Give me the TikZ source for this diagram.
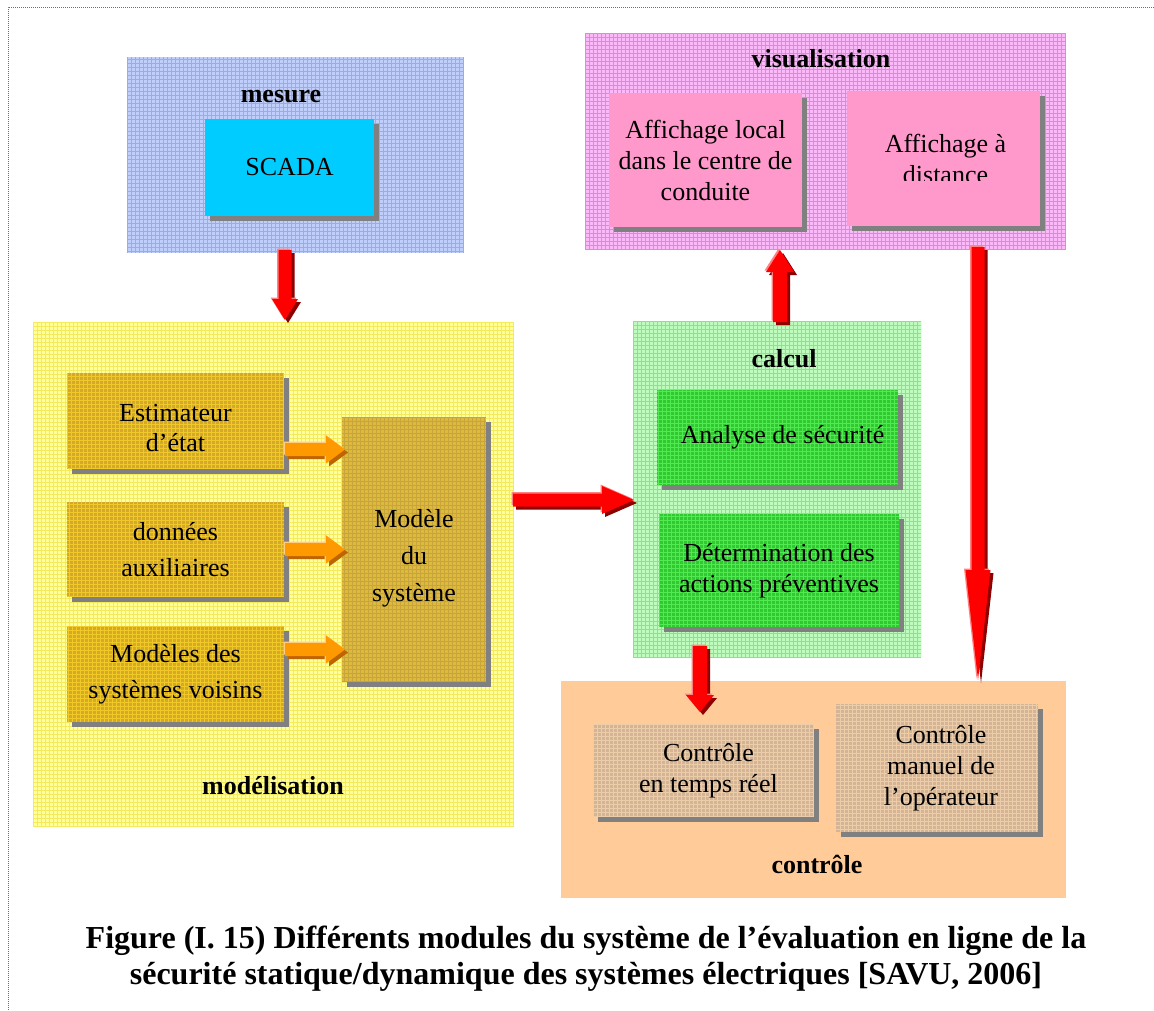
\documentclass[tikz,border=0pt]{standalone}
\usepackage{fontspec}
\setmainfont{Liberation Serif}
\usetikzlibrary{calc,shadows}

\definecolor{mesfill}{RGB}{192,206,252}
\definecolor{mesline}{RGB}{150,170,245}
\definecolor{visfill}{RGB}{252,185,250}
\definecolor{visline}{RGB}{245,120,240}
\definecolor{modfill}{RGB}{255,255,160}
\definecolor{modline}{RGB}{245,235,90}
\definecolor{calfill}{RGB}{190,252,190}
\definecolor{calline}{RGB}{120,240,120}
\definecolor{ctlfill}{RGB}{255,204,153}
\definecolor{scadabox}{RGB}{0,204,255}
\definecolor{pinkbox}{RGB}{255,153,204}
\definecolor{goldbox}{RGB}{212,168,40}
\definecolor{goldline}{RGB}{240,200,40}
\definecolor{sysbox}{RGB}{222,186,60}
\definecolor{sysline}{RGB}{200,165,60}
\definecolor{greenbox}{RGB}{50,200,50}
\definecolor{greenline}{RGB}{80,235,80}
\definecolor{tanbox}{RGB}{212,180,148}
\definecolor{tanline}{RGB}{235,205,170}
\definecolor{boxshadow}{RGB}{128,128,128}
\definecolor{redface}{RGB}{255,0,0}
\definecolor{redshade}{RGB}{140,0,0}
\definecolor{redlight}{RGB}{255,130,130}
\definecolor{orangeface}{RGB}{255,153,0}
\definecolor{orangeshade}{RGB}{190,100,0}
\definecolor{orangelight}{RGB}{255,205,130}
\definecolor{framegray}{RGB}{110,110,110}

% one flat block arrow: fill, tail, tip, shaft half width, head half width, head length
\newcommand\arrowbody[6]{%
  \coordinate (ab-t) at (#2);
  \coordinate (ab-p) at (#3);
  \coordinate (ab-h) at ($(ab-p)!#6!(ab-t)$);
  \fill[#1] ($(ab-t)!#4!90:(ab-p)$) -- ($(ab-h)!#4!-90:(ab-t)$)
    -- ($(ab-h)!#5!-90:(ab-t)$) -- (ab-p) -- ($(ab-h)!#5!90:(ab-t)$)
    -- ($(ab-h)!#4!90:(ab-t)$) -- ($(ab-t)!#4!-90:(ab-p)$) -- cycle;
}
% raised block arrow: face, shade, light, tail, tip, shaft hw, head hw, head length
\newcommand\blockarrow[8]{%
  \coordinate (ba-s1) at ($(#4)+(3,3)$);
  \coordinate (ba-s2) at ($(#5)+(3,3)$);
  \coordinate (ba-l1) at ($(#4)+(-1.5,-1.5)$);
  \coordinate (ba-l2) at ($(#5)+(-1.5,-1.5)$);
  \arrowbody{#2}{ba-s1}{ba-s2}{#6}{#7}{#8}
  \arrowbody{#3}{ba-l1}{ba-l2}{#6}{#7}{#8}
  \arrowbody{#1}{#4}{#5}{#6}{#7}{#8}
}

\tikzset{
  every node/.style={inner sep=0pt, outer sep=0pt, font=\fontsize{26}{31}\selectfont},
  tex/.style={path picture={\draw[#1, line width=0.6pt, step=4pt]
      (path picture bounding box.north west) grid (path picture bounding box.south east);}},
  grp/.style={draw=none, rectangle},
  title/.style={anchor=base, font=\fontsize{26}{31}\selectfont\bfseries},
  card/.style={rectangle, align=center,
      drop shadow={opacity=1, fill=boxshadow, shadow xshift=5pt, shadow yshift=-5pt}},
}

\begin{document}
\begin{tikzpicture}[x=1pt, y=-1pt]
\useasboundingbox (0,0) rectangle (1154,1010);
\fill[white] (0,0) rectangle (1154,1010);

% page frame
\draw[framegray, line width=1pt, dash pattern=on 1pt off 1pt] (8,1010) -- (8,7) -- (1154,7);

% module areas
\node[grp, fill=mesfill, tex=mesline, minimum width=337pt, minimum height=196pt] (mesure) at (295.5,155) {};
\node[grp, fill=visfill, tex=visline, minimum width=481pt, minimum height=216pt] (visu) at (825.5,141) {};
\node[grp, fill=modfill, tex=modline, minimum width=481pt, minimum height=504pt] (model) at (273.5,574) {};
\node[grp, fill=calfill, tex=calline, minimum width=288pt, minimum height=336pt] (calcul) at (777,489) {};
\node[grp, fill=ctlfill, minimum width=505pt, minimum height=217pt] (ctrl) at (813.5,789.5) {};

% module titles
\node[title] (mesure-l) at (281,102) {mesure};
\node[title] (visu-l) at (821,67) {visualisation};
\node[title] (model-l) at (273,794) {modélisation};
\node[title] (calcul-l) at (784,367) {calcul};
\node[title] (ctrl-l) at (817,873) {contrôle};

% mesure
\node[card, fill=scadabox, minimum width=169pt, minimum height=97pt] (scada) at (289.5,167.5) {SCADA};

% visualisation
\node[card, fill=pinkbox, minimum width=193pt, minimum height=134pt] (local) at (705.5,160)
  {Affichage local\\dans le centre de\\conduite};
\node[card, fill=pinkbox, minimum width=193pt, minimum height=135pt] (dist) at (943.5,158.5) {};
\begin{scope}
  \clip (dist.north west) rectangle ($(dist.east)+(0,21.5)$);
  \node[align=center] (dist-t) at ($(dist.center)+(2,0)$) {Affichage à\\distance};
\end{scope}

% modélisation
\node[card, fill=goldbox, tex=goldline, minimum width=217pt, minimum height=96pt] (est) at (175.5,421)
  {\rule{0pt}{32pt}Estimateur\\[-1pt]d’état};
\node[card, fill=goldbox, tex=goldline, minimum width=217pt, minimum height=95pt] (aux) at (175.5,549.5)
  {données\\[5pt]auxiliaires};
\node[card, fill=goldbox, tex=goldline, minimum width=217pt, minimum height=96pt] (voisins) at (175.5,674)
  {Modèles des\\[5pt]systèmes voisins};
\node[card, fill=sysbox, tex=sysline, minimum width=144pt, minimum height=265pt] (msys) at (414,549.5)
  {\rule{0pt}{36pt}Modèle\\[6pt]du\\[6pt]système};

% calcul
\node[card, fill=greenbox, tex=greenline, minimum width=241pt, minimum height=95pt] (secu) at (777.5,437.5)
  {\hspace*{10pt}Analyse de sécurité};
\node[card, fill=greenbox, tex=greenline, minimum width=240pt, minimum height=113pt] (prev) at (779,570.5)
  {Détermination des\\actions préventives};

% contrôle
\node[card, fill=tanbox, tex=tanline, minimum width=221pt, minimum height=93pt] (rt) at (703.5,770.5)
  {\hspace*{10pt}Contrôle\\\hspace*{10pt}en temps réel};
\node[card, fill=tanbox, tex=tanline, minimum width=202pt, minimum height=128pt] (op) at (937,768)
  {\hspace*{8pt}Contrôle\\\hspace*{8pt}manuel de\\\hspace*{8pt}l’opérateur};

% inputs of the system model
\coordinate (o1) at ($(est.south east)+(1,-19.5)$);
\coordinate (o1e) at ($(o1 -| msys.west)+(3,0)$);
\coordinate (o2) at ($(aux.south east)+(1,-47.5)$);
\coordinate (o2e) at ($(o2 -| msys.west)+(3,0)$);
\coordinate (o3) at ($(voisins.south east)+(1,-72.5)$);
\coordinate (o3e) at ($(o3 -| msys.west)+(3,0)$);
\blockarrow{orangeface}{orangeshade}{orangelight}{o1}{o1e}{6.5pt}{14pt}{19pt}
\blockarrow{orangeface}{orangeshade}{orangelight}{o2}{o2e}{6.5pt}{14pt}{19pt}
\blockarrow{orangeface}{orangeshade}{orangelight}{o3}{o3e}{6.5pt}{14pt}{19pt}

% flows between modules
\coordinate (m1) at ($(mesure.south)+(-10.5,-3)$);
\coordinate (m2) at ($(m1 |- model.north)+(0,-2)$);
\blockarrow{redface}{redshade}{redlight}{m1}{m2}{6.5pt}{13pt}{21pt}

\coordinate (c1) at ($(model.east)+(-1,-74)$);
\coordinate (c2) at ($(c1 -| calcul.west)+(1,0)$);
\blockarrow{redface}{redshade}{redlight}{c1}{c2}{6.5pt}{14pt}{32pt}

\coordinate (v1) at ($(calcul.north)+(3,1)$);
\coordinate (v2) at ($(v1 |- visu.south)+(0,1)$);
\blockarrow{redface}{redshade}{redlight}{v1}{v2}{7pt}{14pt}{22pt}

\coordinate (k1) at ($(calcul.south)+(-77,-11)$);
\coordinate (k2) at ($(k1 |- ctrl.north)+(0,31)$);
\blockarrow{redface}{redshade}{redlight}{k1}{k2}{7pt}{14pt}{17pt}

\coordinate (d1) at ($(visu.south)+(152.5,-2)$);
\coordinate (d2) at ($(d1 |- ctrl.north)+(0,-1)$);
\blockarrow{redface}{redshade}{redlight}{d1}{d2}{6.5pt}{12.5pt}{110pt}

% caption
\node[align=center, font=\fontsize{32}{36}\selectfont\bfseries] (caption) at (586,959)
  {Figure (I. 15) Différents modules du système de l’évaluation en ligne de la\\
   sécurité statique/dynamique des systèmes électriques [SAVU, 2006]};
\end{tikzpicture}
\end{document}
